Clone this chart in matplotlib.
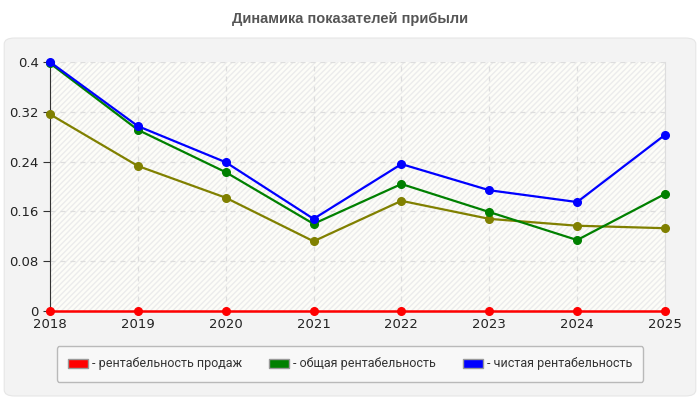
import matplotlib.pyplot as plt
from matplotlib.patches import FancyBboxPatch
from matplotlib.patches import Patch

years = [2018, 2019, 2020, 2021, 2022, 2023, 2024, 2025]
sales = [0, 0, 0, 0, 0, 0, 0, 0]
total = [0.398, 0.291, 0.223, 0.140, 0.204, 0.159, 0.114, 0.188]
net = [0.400, 0.297, 0.239, 0.148, 0.236, 0.194, 0.175, 0.283]
extra = [0.316, 0.233, 0.182, 0.112, 0.177, 0.148, 0.137, 0.133]

yticks = [0, 0.08, 0.16, 0.24, 0.32, 0.4]
ytick_labels = ['0', '0.08', '0.16', '0.24', '0.32', '0.4']

plt.rcParams['font.family'] = ['Roboto', 'DejaVu Sans']

fig = plt.figure(figsize=(7, 4), dpi=100)
fig.patch.set_facecolor('white')

# Серая подложка с закруглёнными углами
bg = FancyBboxPatch((0.006, 0.01), 0.988, 0.895, boxstyle='round,pad=0,rounding_size=0.015',
                    transform=fig.transFigure, facecolor='#f3f3f3', edgecolor='#e6e6e6',
                    linewidth=0.8, zorder=-10)
fig.patches.append(bg)

fig.text(0.5, 0.952, 'Динамика показателей прибыли', ha='center', va='center',
         fontsize=10.5, fontweight='bold', color='#555555', family=['Liberation Sans', 'DejaVu Sans'])

ax = fig.add_axes([0.0714, 0.2225, 0.8786, 0.6225])
ax.set_facecolor('#fdfdf8')
ax.patch.set_hatch('//////')
ax.patch.set_edgecolor('#ececec')
ax.patch.set_linewidth(0)

ax.plot(years, extra, color='#808000', marker='o', markersize=5.5, linewidth=1.6, zorder=3, clip_on=False)
ax.plot(years, total, color='#008000', marker='o', markersize=5.5, linewidth=1.6, zorder=4, clip_on=False)
ax.plot(years, net, color='#0000ff', marker='o', markersize=5.5, linewidth=1.6, zorder=5, clip_on=False)
ax.plot(years, sales, color='#ff0000', marker='o', markersize=5.5, linewidth=1.8, zorder=6, clip_on=False)

ax.set_xlim(years[0], years[-1])
ax.set_ylim(0, 0.4)
ax.set_xticks(years)
ax.set_yticks(yticks)
ax.set_yticklabels(ytick_labels)

ax.grid(True, linestyle=(0, (4, 4)), color='#dddddd', linewidth=0.9)
ax.set_axisbelow(True)

ax.spines['top'].set_visible(False)
ax.spines['right'].set_color('#dddddd')
ax.spines['left'].set_color('#333333')
ax.spines['bottom'].set_color('#333333')
ax.tick_params(axis='y', length=5, color='#333333', labelsize=9.5, labelcolor='#222222', pad=3)
ax.tick_params(axis='x', length=0, labelsize=9.5, labelcolor='#222222', pad=5)
for lbl in ax.get_xticklabels() + ax.get_yticklabels():
    lbl.set_family(['DejaVu Sans'])

handles = [Patch(facecolor='#ff0000', edgecolor='#999999'),
           Patch(facecolor='#008000', edgecolor='#999999'),
           Patch(facecolor='#0000ff', edgecolor='#999999')]
labels = ['- рентабельность продаж', '- общая рентабельность', '- чистая рентабельность']
leg = fig.legend(handles, labels, loc='center', bbox_to_anchor=(0.5, 0.09), ncol=3,
                 fontsize=9, frameon=True, fancybox=True, handlelength=1.6, handleheight=0.7,
                 handletextpad=0.3, columnspacing=2.2, borderpad=0.9, labelcolor='#333333')
leg.get_frame().set_facecolor('#fafafa')
leg.get_frame().set_edgecolor('#aaaaaa')

fig.savefig('out.png', dpi=100)
